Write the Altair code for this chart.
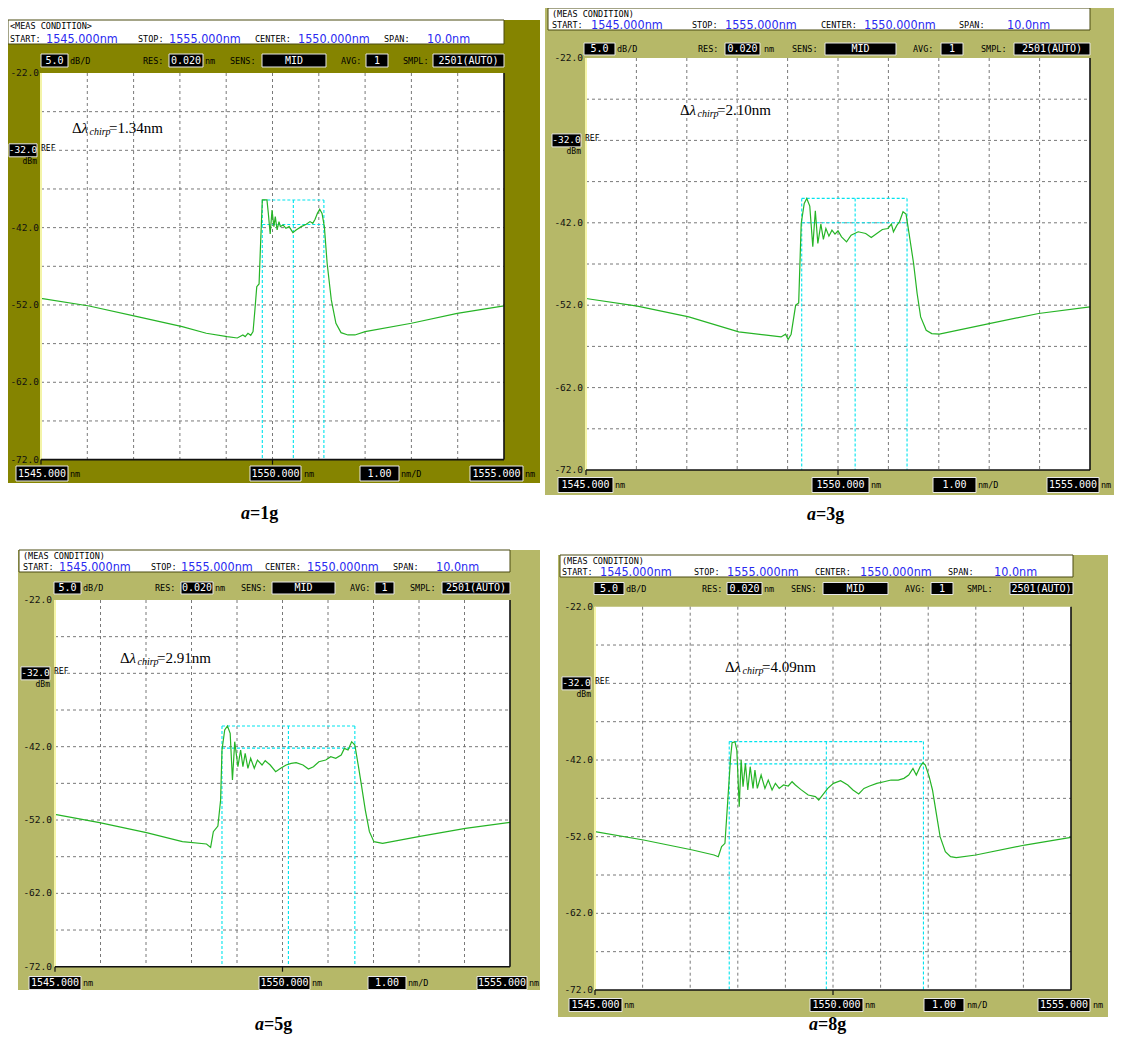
import altair as alt
import pandas as pd

W, H = 1106, 1027          # drawing canvas = page minus the 8px margins
MONO = "DejaVu Sans Mono"
NARROW = "Liberation Sans Narrow, DejaVu Sans Condensed, DejaVu Sans"
SERIF = "Liberation Serif, Times New Roman, serif"
BLUE = "#2a2af0"

# ================= DATA =================
nm_a1 = [1545.00, 1546.04, 1547.08, 1548.05, 1548.57, 1549.02, 1549.24, 1549.36, 1549.41, 1549.47,
         1549.53, 1549.58, 1549.62, 1549.66, 1549.71, 1549.74, 1549.78, 1549.88, 1549.91, 1549.95,
         1549.99, 1550.03, 1550.06, 1550.10, 1550.14, 1550.17, 1550.23, 1550.29, 1550.36, 1550.44,
         1550.51, 1550.62, 1550.73, 1550.81, 1550.87, 1550.92, 1550.97, 1551.02, 1551.07, 1551.12,
         1551.18, 1551.27, 1551.37, 1551.48, 1551.63, 1551.78, 1552.00, 1553.00, 1553.99, 1555.00]
db_a1 = [-51.14, -52.13, -53.51, -54.80, -55.66, -56.09, -56.27, -55.88, -56.09, -55.66,
         -55.92, -55.45, -52.65, -49.63, -49.28, -44.46, -38.42, -38.42, -40.15, -42.82,
         -39.72, -41.87, -40.58, -42.30, -41.22, -41.87, -41.66, -42.09, -41.87, -42.65,
         -42.30, -41.87, -41.57, -41.22, -41.44, -40.92, -40.15, -39.63, -40.15, -41.87,
         -46.61, -51.35, -54.37, -55.58, -55.88, -55.88, -55.45, -54.37, -53.08, -52.13]

nm_a3 = [1545.00, 1546.02, 1547.04, 1548.03, 1548.58, 1548.87, 1548.96, 1549.01, 1549.07, 1549.16,
         1549.22, 1549.27, 1549.33, 1549.38, 1549.44, 1549.50, 1549.55, 1549.60, 1549.66, 1549.71,
         1549.76, 1549.82, 1549.88, 1549.94, 1550.00, 1550.07, 1550.17, 1550.26, 1550.40, 1550.55,
         1550.66, 1550.77, 1550.88, 1550.99, 1551.06, 1551.10, 1551.17, 1551.22, 1551.29, 1551.35,
         1551.41, 1551.50, 1551.57, 1551.64, 1551.75, 1551.86, 1552.01, 1553.00, 1553.98, 1555.00]
db_a3 = [-51.19, -52.12, -53.42, -55.24, -55.64, -55.85, -55.52, -56.17, -55.52, -52.00,
         -51.72, -42.08, -39.65, -39.04, -39.98, -44.91, -40.54, -44.51, -42.16, -44.02,
         -42.69, -43.62, -42.89, -43.38, -42.97, -43.70, -44.31, -43.50, -43.09, -43.30,
         -43.78, -43.30, -42.81, -42.69, -42.16, -43.09, -42.28, -41.88, -40.66, -40.95,
         -43.30, -46.94, -50.58, -53.42, -55.04, -55.44, -55.52, -54.23, -53.01, -52.20]

nm_a5 = [1545.00, 1545.98, 1547.01, 1547.80, 1548.33, 1548.42, 1548.48, 1548.58, 1548.64, 1548.67,
         1548.73, 1548.79, 1548.85, 1548.90, 1548.95, 1549.02, 1549.08, 1549.13, 1549.18, 1549.24,
         1549.30, 1549.38, 1549.45, 1549.55, 1549.62, 1549.73, 1549.85, 1549.96, 1550.08, 1550.19,
         1550.30, 1550.45, 1550.57, 1550.68, 1550.80, 1550.95, 1551.06, 1551.17, 1551.29, 1551.36,
         1551.44, 1551.52, 1551.59, 1551.67, 1551.74, 1551.82, 1551.91, 1552.01, 1552.20, 1552.99,
         1554.02, 1555.00]
db_a5 = [-51.23, -52.36, -53.73, -54.95, -55.27, -55.73, -53.59, -52.82, -49.27, -42.45,
         -39.73, -39.18, -40.18, -46.55, -41.32, -44.73, -42.45, -44.73, -42.91, -44.95,
         -43.59, -44.95, -43.82, -44.50, -43.91, -44.50, -45.41, -44.95, -44.50, -44.27,
         -44.18, -44.50, -45.05, -44.73, -44.05, -43.82, -43.36, -43.59, -43.14, -42.23,
         -42.45, -41.32, -41.77, -44.73, -47.45, -50.64, -53.59, -54.95, -55.18, -54.27,
         -53.14, -52.32]

nm_a8 = [1545.00, 1546.02, 1547.05, 1547.50, 1547.59, 1547.66, 1547.73, 1547.79, 1547.85, 1547.88,
         1547.94, 1547.98, 1548.03, 1548.07, 1548.11, 1548.16, 1548.21, 1548.26, 1548.32, 1548.36,
         1548.41, 1548.49, 1548.57, 1548.64, 1548.72, 1548.79, 1548.87, 1548.96, 1549.06, 1549.14,
         1549.21, 1549.32, 1549.48, 1549.63, 1549.70, 1549.78, 1549.89, 1550.01, 1550.16, 1550.31,
         1550.42, 1550.54, 1550.65, 1550.77, 1550.92, 1551.07, 1551.22, 1551.37, 1551.49, 1551.59,
         1551.68, 1551.75, 1551.83, 1551.89, 1551.94, 1552.02, 1552.09, 1552.17, 1552.25, 1552.36,
         1552.47, 1552.59, 1553.00, 1554.03, 1555.00]
db_a8 = [-51.35, -52.43, -53.74, -54.39, -54.61, -53.30, -52.87, -47.22, -41.57, -39.74,
         -39.61, -40.70, -48.09, -42.00, -45.48, -42.43, -45.91, -42.87, -45.70, -43.30,
         -45.70, -43.96, -45.70, -44.61, -45.91, -45.04, -45.70, -45.26, -45.39, -44.83,
         -45.26, -45.83, -46.57, -46.78, -47.22, -46.57, -45.70, -45.04, -44.70, -45.26,
         -45.91, -46.43, -45.70, -45.39, -45.04, -44.83, -44.61, -44.61, -44.39, -43.96,
         -43.09, -43.96, -42.87, -42.35, -42.65, -44.17, -45.91, -48.96, -52.00, -53.96,
         -54.61, -54.74, -54.39, -53.09, -52.09]

# cyan marker positions: left / centre / right wavelength, and top / -3 dB levels
marker_nm = [[1549.78, 1550.45, 1551.11],
             [1549.28, 1550.34, 1551.37],
             [1548.67, 1550.13, 1551.59],
             [1547.82, 1549.86, 1551.90]]
marker_db = [[-38.42, -41.60],
             [-39.04, -42.00],
             [-39.18, -42.20],
             [-39.60, -42.50]]

chirp = ["1.34nm", "2.10nm", "2.91nm", "4.09nm"]
accel = ["1g", "3g", "5g", "8g"]

grid_nm = [1546, 1547, 1548, 1549, 1550, 1551, 1552, 1553, 1554]
grid_db = [-27, -32, -37, -42, -47, -52, -57, -62, -67]
ylab_db = [-22, -42, -52, -62, -72]
ref_db = -32
x_start, x_stop, x_center = 1545, 1555, 1550
y_top, y_bot = -22, -72

meas_title = ["<MEAS CONDITION>", "(MEAS CONDITION)", "(MEAS CONDITION)", "(MEAS CONDITION)"]
hdr_labels = ["START:", "STOP:", "CENTER:", "SPAN:"]
hdr_values = ["1545.000nm", "1555.000nm", "1550.000nm", "10.0nm"]
ctrl_labels = ["dB/D", "RES:", "nm", "SENS:", "AVG:", "SMPL:"]
ctrl_values = ["5.0", "0.020", "MID", "1", "2501(AUTO)"]
foot_labels = ["nm", "nm", "nm/D", "nm"]
foot_values = ["1545.000", "1550.000", "1.00", "1555.000"]

series = [(nm_a1, db_a1), (nm_a3, db_a3), (nm_a5, db_a5), (nm_a8, db_a8)]

# ================= LAYOUT (page pixels) =================
LAY = [
    dict(frame=(8, 20, 540, 483), fill="#858400", header=(8, 20, 504, 44), plot=(41, 504, 73, 459.6),
         l1=(10, 26), l2=38.5, hx=[10, 46, 138, 169, 255, 298, 384, 427],
         cy=60.5, ch=13, cbox=[(41, 68), (169, 203), (262, 326), (366, 388), (433, 504)],
         clbl=[70, 143, 205, 230, 341, 403], ylx=39, ref=(9, 37),
         fy=473.5, fh=15, fbox=[(16, 68), (250, 301), (360, 399), (470, 523)], flbl=[70, 304, 401, 525],
         cap=(262, 514), ann=(72, 128)),
    dict(frame=(545, 8, 1114, 495), fill="#b6b868", header=(548, 8, 1090, 30), plot=(586, 1090, 58, 470),
         l1=(552, 13.5), l2=25, hx=[552, 591, 692, 725, 821, 864, 959, 1007],
         cy=49, ch=12, cbox=[(584, 615), (725, 760), (825, 896), (941, 963), (1014, 1090)],
         clbl=[617, 698, 764, 792, 913, 981], ylx=583, ref=(552, 581),
         fy=485, fh=15, fbox=[(558, 613), (812, 869), (933, 976), (1047, 1099)], flbl=[615, 871, 978, 1101],
         cap=(828, 515), ann=(680, 110)),
    dict(frame=(18, 550, 540, 990), fill="#b6b868", header=(19, 550, 510, 572), plot=(55, 510, 600, 966.7),
         l1=(23, 556), l2=567, hx=[23, 59, 151, 181, 265, 307, 393, 436],
         cy=588, ch=12, cbox=[(54, 81), (181, 213), (272, 335), (375, 394), (442, 510)],
         clbl=[83, 155, 215, 241, 350, 410], ylx=52, ref=(21, 50),
         fy=983, fh=13, fbox=[(29, 81), (259, 310), (368, 406), (477, 527)], flbl=[83, 312, 408, 529],
         cap=(276, 1025), ann=(120, 658)),
    dict(frame=(558, 555, 1108, 1017), fill="#b6b868", header=(560, 555, 1073, 577), plot=(595, 1071, 606.7, 990),
         l1=(562, 561), l2=572, hx=[562, 600, 694, 727, 815, 860, 948, 994],
         cy=588.5, ch=12, cbox=[(594, 624), (727, 762), (823, 888), (931, 953), (1010, 1073)],
         clbl=[626, 702, 764, 791, 905, 967], ylx=593, ref=(562, 591),
         fy=1005, fh=13, fbox=[(569, 622), (810, 863), (924, 964), (1038, 1090)], flbl=[624, 865, 967, 1093],
         cap=(830, 1025), ann=(725, 667)),
]

rects_back, rects_front, texts = [], [], []


def add_rect(lst, x0, y0, x1, y1, fill, stroke=None, sw=0.0):
    lst.append(dict(x=x0 - 8, x2=x1 - 8, y=y0 - 8, y2=y1 - 8, fill=fill,
                    stroke=stroke if stroke else fill, sw=sw))


def add_text(x, y, s, size=9.0, color="#000000", font=MONO, weight="normal", style="normal", align="left"):
    texts.append(dict(x=x - 8, y=y - 8, t=s, size=size, c=color, font=font,
                      weight=weight, style=style, align=align))


for i, lay in enumerate(LAY):
    fx0, fy0, fx1, fy1 = lay["frame"]
    add_rect(rects_back, fx0, fy0, fx1, fy1, lay["fill"])
    hx0, hy0, hx1, hy1 = lay["header"]
    add_rect(rects_back, hx0, hy0, hx1, hy1, "#ffffff", "#4a4a10", 1.0)
    add_text(lay["l1"][0], lay["l1"][1], meas_title[i], size=8.5)
    for k in range(4):
        add_text(lay["hx"][2 * k], lay["l2"], hdr_labels[k], size=8.5)
        add_text(lay["hx"][2 * k + 1], lay["l2"], hdr_values[k], size=12.5, color=BLUE, font=NARROW)
    cy, chh = lay["cy"], lay["ch"]
    for (b0, b1), s in zip(lay["cbox"], ctrl_values):
        add_rect(rects_front, b0, cy - chh / 2, b1, cy + chh / 2, "#000000", "#e8e8e8", 1.0)
        add_text((b0 + b1) / 2, cy, s, size=10, color="#ffffff", align="center")
    for x, s in zip(lay["clbl"], ctrl_labels):
        add_text(x, cy, s, size=8.5)
    fyc, fh = lay["fy"], lay["fh"]
    for (b0, b1), s in zip(lay["fbox"], foot_values):
        add_rect(rects_front, b0, fyc - fh / 2, b1, fyc + fh / 2, "#000000", "#e8e8e8", 1.0)
        add_text((b0 + b1) / 2, fyc, s, size=10, color="#ffffff", align="center")
    for x, s in zip(lay["flbl"], foot_labels):
        add_text(x, fyc, s, size=8.5)
    L, R_, Tp, B = lay["plot"]
    yref = Tp + (y_top - ref_db) * (B - Tp) / (y_top - y_bot)
    r0, r1 = lay["ref"]
    add_rect(rects_front, r0, yref - 6.5, r1, yref + 6.5, "#000000", "#e8e8e8", 1.0)
    add_text((r0 + r1) / 2, yref, "%.1f" % ref_db, size=9.5, color="#ffffff", align="center")
    add_text(r1 + 4, yref - 1, "REF", size=8)
    add_text(r1, yref + 12, "dBm", size=8, align="right")
    cx, cyc = lay["cap"]
    add_text(cx - 12, cyc, "a", size=18, font=SERIF, weight="bold", style="italic", align="right")
    add_text(cx - 12, cyc, "=" + accel[i], size=18, font=SERIF, weight="bold")
    ax, ay = lay["ann"]
    add_text(ax, ay, "Δ", size=15, font=SERIF)
    add_text(ax + 9.5, ay, "λ", size=15, font=SERIF, style="italic")
    add_text(ax + 17.5, ay + 4, "chirp", size=10, font=SERIF, style="italic")
    add_text(ax + 37, ay, "=" + chirp[i], size=15, font=SERIF)


def rect_layer(rows):
    df = pd.DataFrame(rows)
    return alt.Chart(df).mark_rect().encode(
        x=alt.X("x:Q", scale=None, axis=None), x2="x2:Q",
        y=alt.Y("y:Q", scale=None, axis=None), y2="y2:Q",
        fill=alt.Fill("fill:N", scale=None),
        stroke=alt.Stroke("stroke:N", scale=None),
        strokeWidth=alt.StrokeWidth("sw:Q", scale=None))


def text_layers(rows):
    df = pd.DataFrame(rows)
    out = []
    for (font, weight, style, align), g in df.groupby(["font", "weight", "style", "align"]):
        out.append(alt.Chart(g.reset_index(drop=True)).mark_text(
            font=font, fontWeight=weight, fontStyle=style, align=align, baseline="middle").encode(
            x=alt.X("x:Q", scale=None, axis=None), y=alt.Y("y:Q", scale=None, axis=None),
            text="t:N", color=alt.Color("c:N", scale=None), size=alt.Size("size:Q", scale=None)))
    return out


def panel(i):
    lay = LAY[i]
    L, R_, Tp, B = lay["plot"]
    kx = (R_ - L) / (x_stop - x_start)
    ky = (B - Tp) / (y_top - y_bot)
    xlo = x_start - (L - 8) / kx
    ylo = y_bot - (H - (B - 8)) / ky
    xs = alt.Scale(domain=[xlo, xlo + W / kx], nice=False, zero=False)
    ys = alt.Scale(domain=[ylo, ylo + H / ky], nice=False, zero=False)

    def X(f):
        return alt.X(f, type="quantitative", scale=xs, axis=None)

    def Y(f):
        return alt.Y(f, type="quantitative", scale=ys, axis=None)

    nm, db = series[i]
    mk, lv = marker_nm[i], marker_db[i]

    bg = alt.Chart(pd.DataFrame({"a": [x_start], "b": [x_stop], "c": [y_bot], "d": [y_top]})).mark_rect(
        fill="#ffffff").encode(x=X("a"), x2=alt.X2("b"), y=Y("c"), y2=alt.Y2("d"))
    vgrid = alt.Chart(pd.DataFrame({"nm": grid_nm, "t": y_top, "b": y_bot})).mark_rule(
        color="#6a6a6a", strokeDash=[3, 3], strokeWidth=0.9).encode(x=X("nm"), y=Y("t"), y2=alt.Y2("b"))
    hgrid = alt.Chart(pd.DataFrame({"db": grid_db, "l": x_start, "r": x_stop})).mark_rule(
        color="#6a6a6a", strokeDash=[3, 3], strokeWidth=0.9).encode(y=Y("db"), x=X("l"), x2=alt.X2("r"))
    cv = alt.Chart(pd.DataFrame({"nm": mk, "t": lv[0], "b": y_bot})).mark_rule(
        color="#00e4ee", strokeDash=[3, 2], strokeWidth=1.1).encode(x=X("nm"), y=Y("t"), y2=alt.Y2("b"))
    ch = alt.Chart(pd.DataFrame({"db": lv, "l": mk[0], "r": mk[2]})).mark_rule(
        color="#00e4ee", strokeDash=[3, 2], strokeWidth=1.1).encode(y=Y("db"), x=X("l"), x2=alt.X2("r"))
    trace = alt.Chart(pd.DataFrame({"nm": nm, "db": db})).mark_line(
        color="#26b426", strokeWidth=1.2).encode(x=X("nm"), y=Y("db"))
    bottom = alt.Chart(pd.DataFrame({"db": [y_bot], "l": [x_start], "r": [x_stop]})).mark_rule(
        color="#111111", strokeWidth=1.6).encode(y=Y("db"), x=X("l"), x2=alt.X2("r"))
    right = alt.Chart(pd.DataFrame({"nm": [x_stop], "t": [y_top], "b": [y_bot]})).mark_rule(
        color="#111111", strokeWidth=1.6).encode(x=X("nm"), y=Y("t"), y2=alt.Y2("b"))
    left = alt.Chart(pd.DataFrame({"nm": [x_start], "t": [y_top], "b": [y_bot]})).mark_rule(
        color="#f4f4a8", strokeWidth=2).encode(x=X("nm"), y=Y("t"), y2=alt.Y2("b"))
    tick = alt.Chart(pd.DataFrame({"nm": [x_center, x_start], "t": y_bot, "b": y_bot - 5 / ky})).mark_rule(
        color="#111111", strokeWidth=1.2).encode(x=X("nm"), y=Y("t"), y2=alt.Y2("b"))
    ylab = alt.Chart(pd.DataFrame({"db": ylab_db, "t": ["%.1f" % v for v in ylab_db]})).mark_text(
        align="right", baseline="middle", font=MONO, fontSize=9.5, color="#111111").encode(
        x=alt.value(lay["ylx"] - 8), y=Y("db"), text="t:N")
    return alt.layer(bg, vgrid, hgrid, cv, ch, trace, left, bottom, right, tick, ylab)


layers = [rect_layer(rects_back)] + [panel(i) for i in range(4)] + [rect_layer(rects_front)] + text_layers(texts)

chart = alt.layer(*layers).resolve_scale(x="independent", y="independent").properties(
    width=W, height=H, padding=0, background="#ffffff",
    autosize=alt.AutoSizeParams(type="none")).configure_view(strokeWidth=0)

chart.save("out.html", embed_options={"renderer": "svg", "actions": False})
